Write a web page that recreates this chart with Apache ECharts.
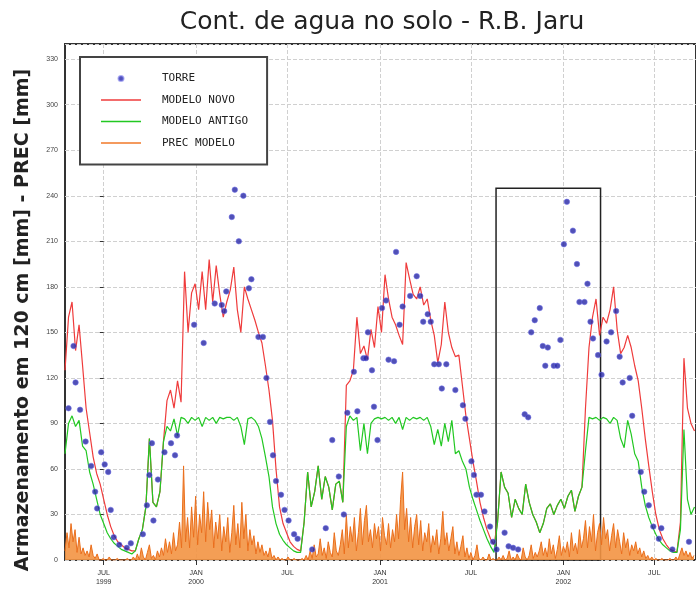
<!DOCTYPE html>
<html><head><meta charset="utf-8">
<script src="https://cdn.jsdelivr.net/npm/echarts@6/dist/echarts.min.js"></script>
<style>html,body{margin:0;padding:0;background:#fff}#c{width:696px;height:590px}</style>
</head><body><div id="c"></div>
<script>
// x values are days counted from 1999-07-01
const TITLE = 'Cont. de agua no solo - R.B. Jaru';
const Y_NAME = 'Armazenamento em 120 cm [mm] - PREC [mm]';
const X_MIN = -77, X_MAX = 1179;
const Y_MIN = 0, Y_MAX = 340, Y_STEP = 30;
const TICK_DAYS = [0, 184, 366, 550, 731, 915, 1096];
const TICK_LABELS = ['JUL\n1999', 'JAN\n2000', 'JUL', 'JAN\n2001', 'JUL', 'JAN\n2002', 'JUL'];
const SERIES_NAMES = ['TORRE', 'MODELO NOVO', 'MODELO ANTIGO', 'PREC MODELO'];

// model series: weekly samples starting at day -77
const MODEL_START = -77, MODEL_STEP = 7;
const modeloNovo = [
125,160,170,138,155,128,100,84,68,57,
50,40,30,22,16,12,10,8,7,6,
6,14,20,35,80,38,35,45,78,105,
112,100,118,104,190,150,176,182,165,190,
165,198,170,194,175,160,170,178,193,165,
150,180,172,165,158,150,143,128,112,92,
60,35,24,18,12,9,7,6,25,58,
35,45,62,40,55,48,33,50,52,38,
115,118,125,160,136,141,132,152,140,167,
150,188,172,160,155,148,142,196,185,175,
172,180,168,172,158,148,130,142,170,150,
140,134,135,115,95,80,65,52,38,28,
20,14,10,25,58,48,44,28,40,34,
30,50,38,30,25,18,24,34,37,30,
36,40,34,42,46,32,42,48,100,140,
160,172,148,160,156,165,180,152,136,140,
148,140,128,118,100,80,62,45,30,20,
14,10,7,6,5,25,133,100,90,85
];
const modeloAntigo = [
70,90,95,88,92,75,72,58,50,40,
30,24,18,14,11,9,7,6,5,4,
6,14,20,35,80,38,35,45,78,88,
85,93,82,94,93,90,94,92,94,88,
94,92,94,90,94,93,94,94,92,94,
88,76,93,94,92,88,80,68,55,35,
24,17,13,10,8,6,5,5,25,58,
35,45,62,40,55,48,33,50,52,38,
88,95,92,94,72,90,70,90,93,94,
93,94,92,94,90,94,86,94,92,94,
93,94,92,94,88,76,86,75,90,78,
92,70,72,65,60,48,40,33,26,20,
14,9,5,25,58,48,44,28,40,34,
30,50,38,30,25,18,24,34,37,30,
36,40,34,42,46,32,42,48,72,94,
93,94,92,94,93,90,94,92,80,74,
92,83,70,65,48,36,28,22,17,13,
10,8,6,5,5,20,86,40,30,35
];

// model precipitation: samples every 4 days starting at day -77
const PREC_START = -77, PREC_STEP = 4;
const precModelo = [
6,18,8,24,12,20,5,15,4,8,
3,6,2,10,3,1,4,0,
0,1,0,0,2,0,0,0,1,0,0,0,0,1,0,0,2,0,
4,0,8,2,0,5,10,1,3,0,6,2,
8,3,14,5,12,4,18,6,10,25,8,
62,
12,28,8,35,15,42,10,30,18,45,12,38,20,33,8,25,14,30,6,22,12,28,5,18,36,10,24,8,38,14,30,6,20,10,16,4,12,5,
10,3,6,2,8,1,3,0,2,0,1,0,0,2,0,0,1,0,0,
0,1,0,3,0,6,1,10,2,4,14,3,8,1,12,5,2,18,6,3,10,20,4,
30,8,22,12,28,6,18,34,10,26,36,12,20,8,24,14,22,6,28,16,10,24,8,20,12,30,14,40,58,20,34,12,28,8,22,30,10,26,6,18,12,24,5,16,10,20,4,14,32,10,18,6,14,22,4,12,3,9,16,2,8,
1,5,0,3,10,1,0,2,0,0,4,0,1,0,0,2,
0,3,0,1,6,0,2,0,4,1,0,8,2,0,3,10,1,5,2,
6,12,3,8,2,14,4,10,1,7,16,3,9,5,12,2,18,6,11,4,20,8,
14,26,8,22,12,30,6,18,24,10,28,14,20,6,16,24,8,20,12,4,18,8,14,3,10,6,12,
4,8,2,6,1,3,0,2,0,1,0,0,1,0,0,0,1,0,
0,2,0,4,8,3,6,2,5,1,3
];

// tower observations
const torreDay = [
-70,-60,-56,-47,-36,-25,-17,-13,-5,2,9,14,20,31,46,54,78,86,91,96,99,108,121,134,142,146,
180,199,221,235,240,244,255,261,269,278,289,294,308,317,324,331,337,343,353,360,368,379,386,415,442,455,468,478,
485,498,505,517,522,526,534,538,545,554,562,567,578,582,589,595,610,623,630,636,645,651,658,667,673,682,700,715,720,732,737,742,751,758,769,775,782,
798,806,815,825,838,845,851,858,868,874,879,884,896,903,909,916,922,934,942,947,957,963,969,974,984,991,1001,1010,1020,1027,1033,1047,1052,1069,1076,1085,1094,1105,1110,1132,1165
];
const torreVal = [
100,141,117,99,78,62,45,34,71,63,58,33,15,10,8,11,17,36,56,77,26,53,71,77,69,82,
155,143,169,168,164,177,226,244,210,240,179,185,147,147,120,91,69,52,43,33,26,17,14,7,21,79,55,30,
97,124,98,133,133,150,125,101,79,166,171,132,131,203,155,167,174,187,174,157,162,157,129,129,113,129,112,102,93,65,56,43,43,32,22,12,7,
18,9,8,7,96,94,150,158,166,141,128,140,128,128,145,208,236,217,195,170,170,182,157,146,135,122,144,150,164,134,117,120,95,58,45,36,22,14,21,7,12
];

// highlighted period box: start day, end day, top value
const BOX = [781, 989, 245];

const novoData = modeloNovo.map((v, i) => [MODEL_START + i * MODEL_STEP, v]);
const antigoData = modeloAntigo.map((v, i) => [MODEL_START + i * MODEL_STEP, v]);
const precData = precModelo.map((v, i) => [PREC_START + i * PREC_STEP, v]);
const torreData = torreDay.map((d, i) => [d, torreVal[i]]);

const LINE_ICON = 'path://M0,0H40V1.4H0Z';
const legendItems = SERIES_NAMES.map(n => n === 'TORRE' ? {name: n, icon: 'circle'} : {name: n, icon: LINE_ICON});

const chart = echarts.init(document.getElementById('c'), null, {renderer: 'canvas'});
chart.setOption({
  animation: false,
  backgroundColor: '#fff',
  grid: {left: 65, top: 44, right: -3, bottom: 30, show: true, borderColor: '#333', borderWidth: 2, backgroundColor: '#fff'},
  graphic: [
    {type: 'text', x: 382, y: 22, style: {text: TITLE, fill: '#222', font: 'normal 25px "DejaVu Sans"', textAlign: 'center', textVerticalAlign: 'middle'}},
    {type: 'text', x: 23, y: 320, rotation: Math.PI / 2, style: {text: Y_NAME, fill: '#222', font: 'bold 19px "DejaVu Sans"', textAlign: 'center', textVerticalAlign: 'middle'}}
  ],
  legend: {
    orient: 'vertical', left: 80, top: 57,
    padding: [15, 19, 15, 21], itemGap: 8.5, itemWidth: 40, itemHeight: 5,
    backgroundColor: '#fff', borderColor: '#444', borderWidth: 2,
    textStyle: {fontFamily: 'DejaVu Sans Mono', fontSize: 11, color: '#222', padding: [0, 0, 0, 16], lineHeight: 13},
    data: legendItems
  },
  xAxis: {
    type: 'value', min: X_MIN, max: X_MAX,
    axisLine: {show: false},
    axisTick: {show: true, length: 5, customValues: TICK_DAYS, lineStyle: {color: '#333'}},
    axisLabel: {customValues: TICK_DAYS, fontSize: 7, color: '#333', lineHeight: 9, margin: 9,
      formatter: v => TICK_LABELS[TICK_DAYS.indexOf(v)] || ''},
    splitLine: {show: true, lineStyle: {color: '#d0d0d0', type: 'dashed', width: 1}}
  },
  yAxis: {
    type: 'value', min: Y_MIN, max: Y_MAX, interval: Y_STEP,
    axisLine: {show: false},
    axisTick: {show: true, length: 4, lineStyle: {color: '#333'}},
    axisLabel: {fontSize: 7, color: '#444', margin: 7, showMaxLabel: false},
    splitLine: {show: true, lineStyle: {color: '#d0d0d0', type: 'dashed', width: 1}}
  },
  series: [
    {name: 'PREC MODELO', type: 'line', data: precData, symbol: 'none', color: '#f07828',
     lineStyle: {width: 1, color: '#ea6e1c'}, areaStyle: {color: '#f39442', opacity: 0.9}, z: 2},
    {name: 'MODELO NOVO', type: 'line', data: novoData, symbol: 'none', color: '#ef3b3b',
     lineStyle: {width: 1.2, color: '#ef3b3b'}, z: 3},
    {name: 'MODELO ANTIGO', type: 'line', data: antigoData, symbol: 'none', color: '#22c822',
     lineStyle: {width: 1.2, color: '#22c822'}, z: 4,
     markArea: {silent: true, itemStyle: {color: 'rgba(0,0,0,0)', borderColor: '#222', borderWidth: 1.5},
       data: [[{xAxis: BOX[0], yAxis: Y_MIN}, {xAxis: BOX[1], yAxis: BOX[2]}]]}},
    {name: 'TORRE', type: 'scatter', data: torreData, symbol: 'circle', symbolSize: 5.5, color: '#2424a4',
     itemStyle: {color: '#2424a4', borderColor: 'rgba(110,110,230,0.7)', borderWidth: 1}, z: 5}
  ]
});
</script></body></html>
